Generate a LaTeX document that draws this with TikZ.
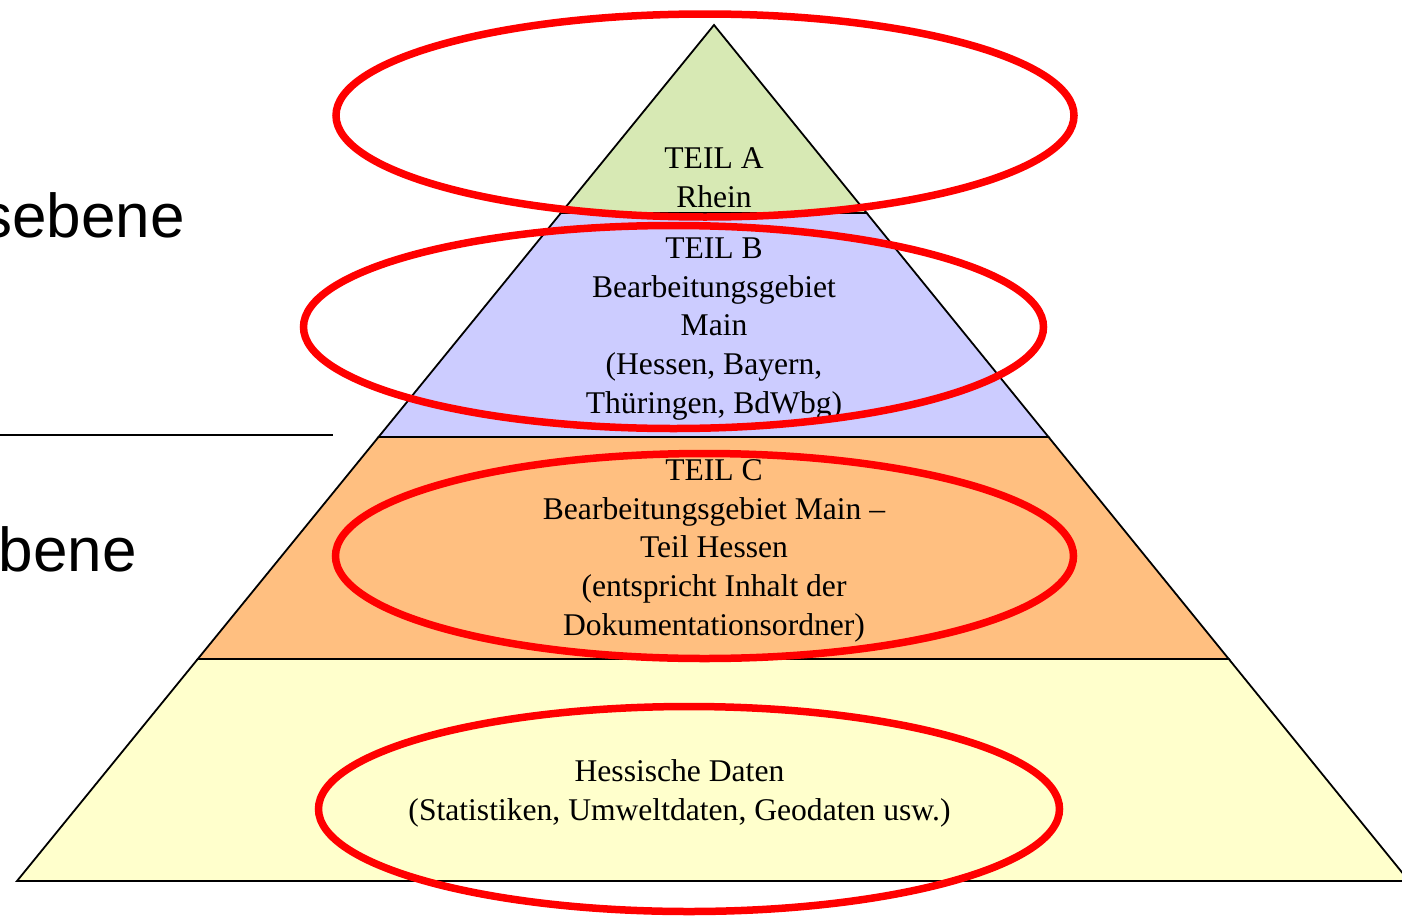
\documentclass[tikz,border=0pt]{standalone}
\usepackage{fontspec}
\setmainfont{Liberation Serif}
\newfontfamily\sansf{Liberation Sans}
\usetikzlibrary{calc}
\definecolor{layA}{RGB}{215,233,180}
\definecolor{layB}{RGB}{204,204,255}
\definecolor{layC}{RGB}{255,191,128}
\definecolor{layD}{RGB}{255,255,204}
\definecolor{ringred}{RGB}{255,0,0}
\tikzset{
  layer/.style={draw=black, line width=1.8pt, line join=miter},
  layertext/.style={align=center, inner sep=0pt, anchor=base,
    font=\fontsize{31.6}{38.6}\selectfont},
  sidetext/.style={inner sep=0pt, anchor=base east,
    font=\sansf\fontsize{62}{70}\selectfont},
  ring/.style={draw=ringred, line width=7.5pt},
}
\begin{document}
\begin{tikzpicture}[x=1pt,y=-1pt]
\useasboundingbox (0,0) rectangle (1402,918);
\begin{scope}
\clip (0,0) rectangle (1402,918);
\coordinate (apex) at (714,25);
\coordinate (bl) at (17,881);
\coordinate (br) at (1409,881);
\coordinate (l1) at ($(apex)!0.2196!(bl)$);
\coordinate (r1) at ($(apex)!0.2196!(br)$);
\coordinate (l2) at ($(apex)!0.4813!(bl)$);
\coordinate (r2) at ($(apex)!0.4813!(br)$);
\coordinate (l3) at ($(apex)!0.7407!(bl)$);
\coordinate (r3) at ($(apex)!0.7407!(br)$);
% layers
\draw[layer, fill=layD] (l3) -- (r3) -- (br) -- (bl) -- cycle;
\draw[layer, fill=layC] (l2) -- (r2) -- (r3) -- (l3) -- cycle;
\draw[layer, fill=layB] (l1) -- (r1) -- (r2) -- (l2) -- cycle;
\draw[layer, fill=layA] (apex) -- (r1) -- (l1) -- cycle;
% texts (anchor base = baseline of the last line)
\node[layertext] (ta) at (714,207) {TEIL A\\Rhein};
\node[layertext] (tb) at (714,413) {TEIL B\\Bearbeitungsgebiet\\Main\\(Hessen, Bayern,\\Thüringen, BdWbg)};
\node[layertext] (tc) at (714,635) {TEIL C\\Bearbeitungsgebiet Main –\\Teil Hessen\\(entspricht Inhalt der\\Dokumentationsordner)};
\node[layertext] (td) at (679.5,820) {Hessische Daten\\(Statistiken, Umweltdaten, Geodaten usw.)};
% left side
\node[sidetext] (s1) at (185,237) {sebene};
\node[sidetext] (s2) at (137,571) {bene};
\coordinate (lineL) at (0,435);
\coordinate (lineR) at (333,435);
\draw[line width=1.8pt] (lineL) -- (lineR);
% rings
\draw[ring] (705,115.5) ellipse [x radius=369, y radius=101.5];
\draw[ring] (673.5,327) ellipse [x radius=370, y radius=101.5];
\draw[ring] (704.5,556) ellipse [x radius=369, y radius=102.5];
\draw[ring] (689,809) ellipse [x radius=370.5, y radius=102.5];
\end{scope}
\end{tikzpicture}
\end{document}
